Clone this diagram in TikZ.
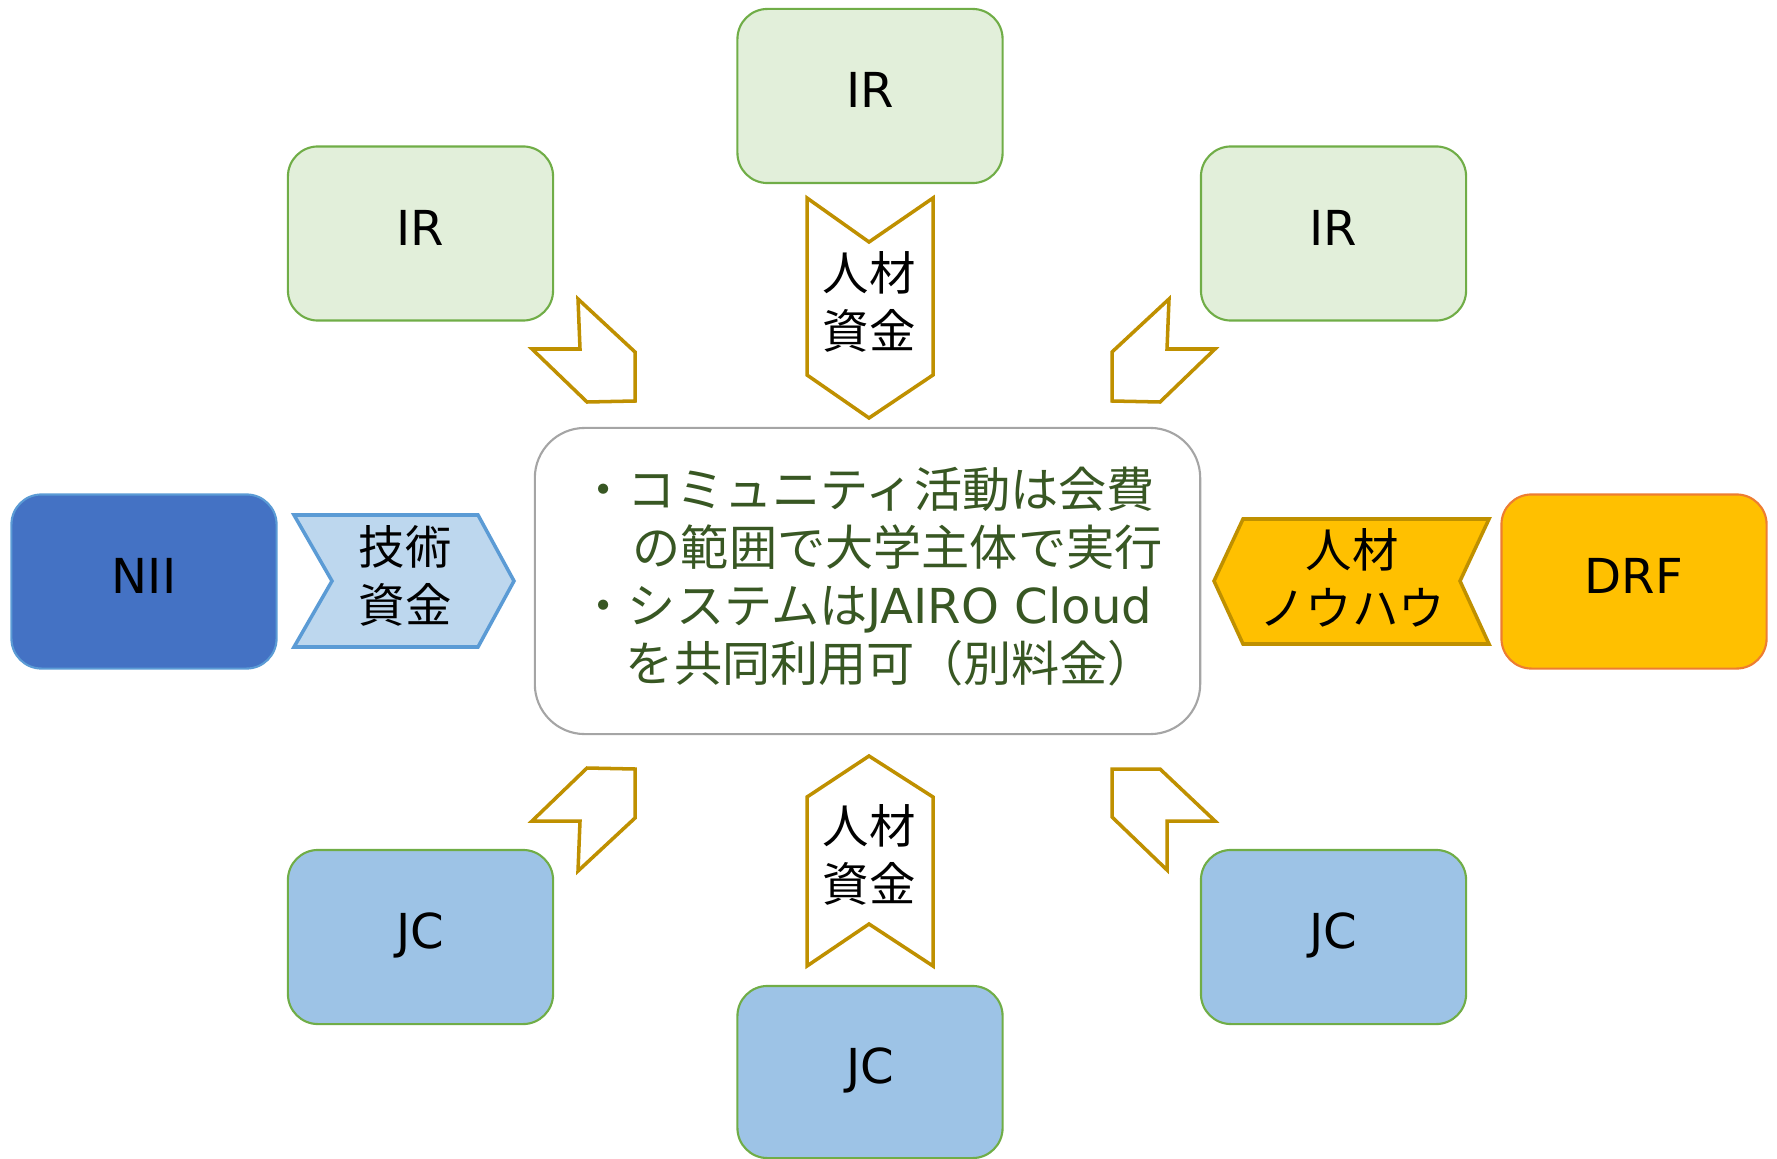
\documentclass[tikz,border=0pt]{standalone}
\usepackage{fontspec}
\setmainfont{Noto Sans CJK JP}
\newfontfamily\latn{DejaVu Sans}
\definecolor{irfill}{HTML}{E2EFDA}
\definecolor{jcfill}{HTML}{9DC3E6}
\definecolor{edgegreen}{HTML}{70AD47}
\definecolor{niifill}{HTML}{4472C4}
\definecolor{niiedge}{HTML}{5B9BD5}
\definecolor{drffill}{HTML}{FFC000}
\definecolor{drfedge}{HTML}{ED7D31}
\definecolor{gold}{HTML}{BF9000}
\definecolor{techfill}{HTML}{BDD7EE}
\definecolor{hubedge}{HTML}{A5A5A5}
\definecolor{hubtext}{HTML}{385723}
\tikzset{
  unitbox/.style={rounded corners=0.3cm, line width=0.6pt, minimum width=2.65cm, minimum height=1.74cm,
    text height=10pt, text depth=3.4pt, font=\latn\fontsize{13.7}{16}\selectfont},
  irbox/.style={unitbox, draw=edgegreen, fill=irfill},
  jcbox/.style={unitbox, draw=edgegreen, fill=jcfill},
  goldarrow/.style={draw=gold, line width=1pt, fill=white, line join=miter},
  jplabel/.style={font=\fontsize{13.2}{16.5}\selectfont, align=center, inner sep=0pt},
}
\begin{document}
\begin{tikzpicture}[x=0.01cm, y=-0.01cm]
\useasboundingbox (0,0) rectangle (1777,1158);

% members
\node[irbox] (irtop) at (870,96) {IR};
\node[irbox] (irleft) at (420.5,233.5) {IR};
\node[irbox] (irright) at (1333.5,233.5) {IR};
\node[jcbox] (jcleft) at (420.5,937) {JC};
\node[jcbox] (jcright) at (1333.5,937) {JC};
\node[jcbox, minimum height=1.72cm] (jcbottom) at (870,1072) {JC};
\node[unitbox, draw=niiedge, fill=niifill] (nii) at (144,581.5) {NII};
\node[unitbox, draw=drfedge, fill=drffill] (drf) at (1634,581.5) {DRF};

% hub
\node[draw=hubedge, line width=0.6pt, fill=white, rounded corners=0.5cm,
  minimum width=6.65cm, minimum height=3.06cm] (hub) at (867.5,581) {};
\node[anchor=west, inner sep=0pt, align=left, text=hubtext,
  font=\fontsize{13.7}{16.5}\selectfont] (hubtxt) at (579,577)
  {・コミュニティ活動は会費\\\hspace*{1.1em}の範囲で大学主体で実行\\・システムは{\latn JAIRO Cloud}\\\hspace*{0.96em}を共同利用可（別料金）};

% flows
\draw[goldarrow] (807,198) -- (869,242) -- (933,198) -- (933,375) -- (869,418) -- (807,375) -- cycle;
\node[jplabel] (flowtop) at (869,302) {人材\\資金};
\draw[goldarrow] (807,797) -- (869,756) -- (933,797) -- (933,966) -- (869,924) -- (807,966) -- cycle;
\node[jplabel] (flowbottom) at (869,855) {人材\\資金};
\draw[goldarrow] (578,299) -- (635,352) -- (635,401) -- (587,402) -- (532,349) -- (580,349) -- cycle;
\draw[goldarrow] (1169,299) -- (1112,352) -- (1112,401) -- (1160,402) -- (1215,349) -- (1167,349) -- cycle;
\draw[goldarrow] (578,871) -- (635,818) -- (635,769) -- (587,768) -- (532,821) -- (580,821) -- cycle;
\draw[goldarrow] (1112,769) -- (1160,769) -- (1215,821) -- (1167,821) -- (1167,870) -- (1112,817) -- cycle;

\draw[draw=niiedge, fill=techfill, line width=1pt] (294,515) -- (478,515) -- (514,581) -- (478,647) -- (294,647) -- (332,581) -- cycle;
\node[jplabel] (flowtech) at (405,576) {技術\\資金};
\draw[draw=gold, fill=drffill, line width=1pt] (1243,519) -- (1489,519) -- (1460,581) -- (1489,644) -- (1243,644) -- (1214,581) -- cycle;
\node[jplabel] (flowknow) at (1352,578) {人材\\ノウハウ};
\end{tikzpicture}
\end{document}
